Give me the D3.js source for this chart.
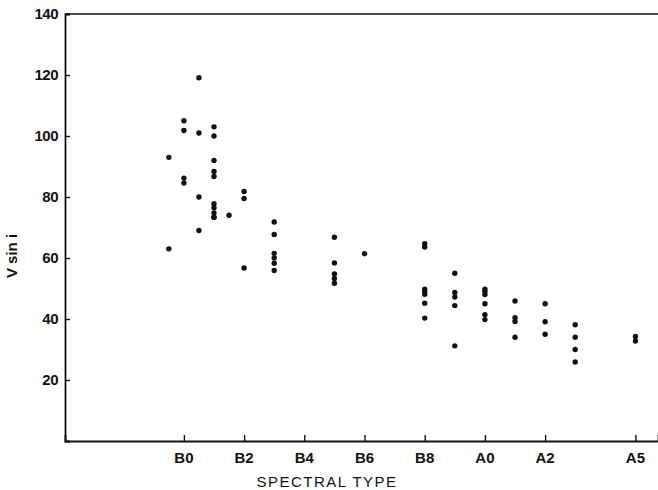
<!DOCTYPE html>
<html><head><meta charset="utf-8">
<script src="https://cdn.jsdelivr.net/npm/d3@7"></script>
<style>body{margin:0;background:#fff}svg{display:block}</style>
</head><body>
<script>
// Spectral type index: B0=0 ... B9=9, A0=10, A1=11 ... A5=15
const tickTypes = [0, 2, 4, 6, 8, 10, 12, 15];
const tickLabels = ["B0", "B2", "B4", "B6", "B8", "A0", "A2", "A5"];
const yTicks = [20, 40, 60, 80, 100, 120, 140];

const pointType = [
  -0.5, -0.5,
  0, 0, 0, 0,
  0.5, 0.5, 0.5, 0.5,
  1, 1, 1, 1, 1, 1, 1, 1, 1, 1,
  1.5,
  2, 2, 2,
  3, 3, 3, 3, 3, 3,
  5, 5, 5, 5, 5,
  6,
  8, 8, 8, 8, 8, 8, 8,
  9, 9, 9, 9, 9,
  10, 10, 10, 10, 10, 10,
  11, 11, 11, 11,
  12, 12, 12,
  13, 13, 13, 13,
  15, 15
];
const pointVsini = [
  93, 63,
  105, 101.8, 86.2, 84.6,
  119.1, 101, 80, 69,
  103, 100, 92, 88.4, 86.7, 77.8, 76.5, 74.8, 73.4, 73.4,
  74,
  81.8, 79.5, 56.7,
  71.8, 67.7, 61.5, 60, 58.3, 55.9,
  66.8, 58.4, 54.8, 53.3, 51.7,
  61.4,
  64.7, 63.6, 49.8, 49, 48.1, 45.2, 40.3,
  55, 48.7, 47.2, 44.4, 31.2,
  49.8, 49, 48, 45, 41.4, 39.8,
  45.9, 40.4, 39.2, 34,
  45, 39.1, 35,
  38.1, 34, 30, 25.9,
  34.3, 32.8
];

const W = 658, H = 490;
const mLeft = 65, mTop = 14, mBottom = 441;
const svg = d3.select("body").append("svg").attr("width", W).attr("height", H);

const x = d3.scaleLinear().domain([-3.95, 15.75]).range([mLeft, W]);
const y = d3.scaleLinear().domain([0, 140]).range([mBottom, mTop]);

const font = "'Liberation Sans', Arial, sans-serif";

// frame: top line
svg.append("line").attr("x1", mLeft).attr("x2", W).attr("y1", mTop).attr("y2", mTop)
  .attr("stroke", "#111").attr("stroke-width", 1.6);

// y axis
const yAxis = svg.append("g").attr("transform", `translate(${mLeft},0)`)
  .call(d3.axisRight(y).tickValues(yTicks).tickSize(5).tickFormat(() => ""));
yAxis.select(".domain").attr("stroke", "#111").attr("stroke-width", 1.8);
yAxis.selectAll(".tick line").attr("stroke", "#111").attr("stroke-width", 1.4);
svg.append("g").selectAll("text").data(yTicks).join("text")
  .attr("x", mLeft - 7).attr("y", d => y(d)).attr("dy", "0.36em")
  .attr("text-anchor", "end").attr("font-family", font).attr("font-weight", "bold")
  .attr("font-size", 15).attr("fill", "#111").attr("letter-spacing", -0.5).text(d => d);

// x axis
const xAxis = svg.append("g").attr("transform", `translate(0,${mBottom})`)
  .call(d3.axisTop(x).tickValues(tickTypes).tickSize(6).tickFormat(() => ""));
xAxis.select(".domain").attr("stroke", "#111").attr("stroke-width", 1.8);
xAxis.selectAll(".tick line").attr("stroke", "#111").attr("stroke-width", 1.4);
svg.append("g").selectAll("text").data(tickTypes).join("text")
  .attr("x", d => x(d)).attr("y", 463).attr("text-anchor", "middle")
  .attr("font-family", font).attr("font-weight", "bold").attr("font-size", 15)
  .attr("fill", "#111").text((d, i) => tickLabels[i]);

// axis titles
svg.append("text").attr("x", 327).attr("y", 487).attr("text-anchor", "middle")
  .attr("font-family", font).attr("font-size", 15).attr("letter-spacing", 1.5)
  .attr("fill", "#111").text("SPECTRAL TYPE");
svg.append("text").attr("transform", `translate(17,256) rotate(-90)`)
  .attr("text-anchor", "middle").attr("font-family", font).attr("font-weight", "bold")
  .attr("font-size", 15).attr("fill", "#111").text("V sin i");

// points
svg.append("g").selectAll("circle").data(pointVsini).join("circle")
  .attr("cx", (d, i) => x(pointType[i])).attr("cy", d => y(d))
  .attr("r", 2.7).attr("fill", "#111");
</script>
</body></html>
